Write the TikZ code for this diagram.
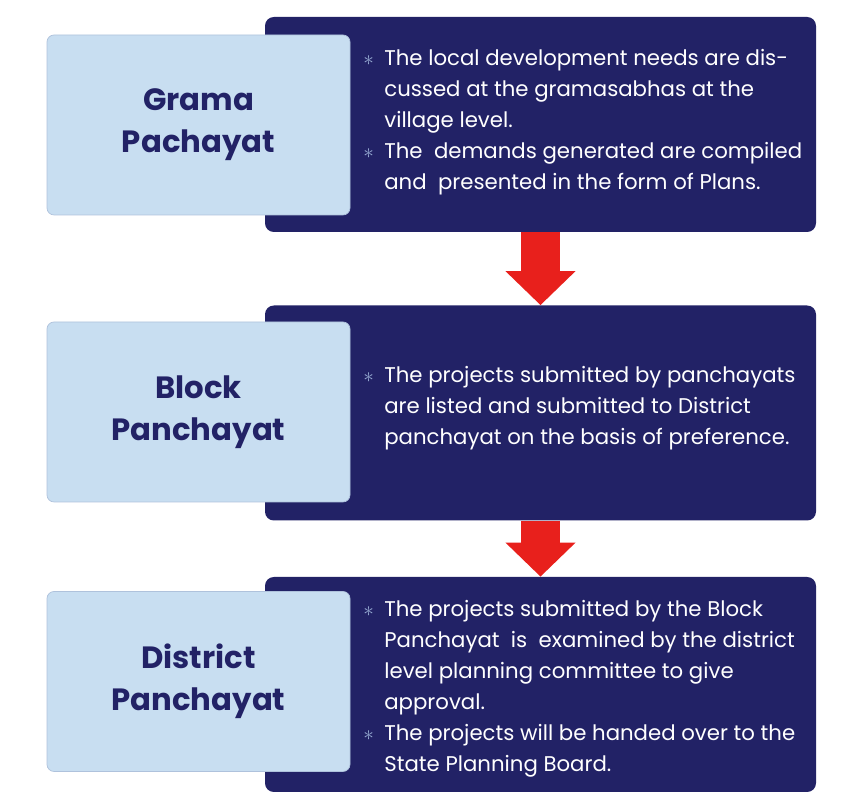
\documentclass[tikz,border=0pt]{standalone}
\usepackage{fontspec}
\setmainfont{Poppins}
\usetikzlibrary{arrows.meta}
\definecolor{navy}{RGB}{34,34,102}
\definecolor{paleblue}{RGB}{200,222,241}
\definecolor{arrowred}{RGB}{232,32,28}
\definecolor{dotblue}{RGB}{150,170,210}
\newcommand{\bul}{\makebox[0.42cm][l]{\textcolor{dotblue}{$\ast$}}}
\newcommand{\ind}{\hspace*{0.42cm}}
\begin{document}
\begin{tikzpicture}[
    level/.style={rectangle, rounded corners=5pt, fill=navy, minimum width=11.02cm, minimum height=4.3cm},
    tier/.style={rectangle, rounded corners=4pt, fill=paleblue, draw=paleblue!85!navy, line width=0.4pt, minimum width=6.06cm, minimum height=3.6cm, align=center, text=navy, font=\fontsize{17.5}{24}\selectfont\bfseries},
    info/.style={anchor=north west, inner sep=0pt, align=left, text=white, font=\fontsize{12.1}{17.6}\selectfont},
    flow/.style={-{Triangle[width=1.36cm,length=0.68cm]}, line width=0.78cm, arrowred}
]
\useasboundingbox (0,0) rectangle (16.96,-16.06);

% Dark panels
\node[level] (lvl1) at (10.81, -2.49) {};
\node[level] (lvl2) at (10.81, -8.26) {};
\node[level] (lvl3) at (10.81, -13.69) {};

% Tier labels
\node[tier] (grama) at (3.97, -2.5) {Grama\\Pachayat};
\node[tier] (block) at (3.97, -8.24) {Block\\Panchayat};
\node[tier] (district) at (3.97, -13.63) {District\\Panchayat};

% Descriptions
\node[info] (txt1) at (7.26, -0.98) {\bul The local development needs are dis-\\
\ind cussed at the gramasabhas at the\\
\ind village level.\\
\bul The \ demands generated are compiled\\
\ind and \ presented in the form of Plans.};
\node[info] (txt2) at (7.26, -7.32) {\bul The projects submitted by panchayats\\
\ind are listed and submitted to District\\
\ind panchayat on the basis of preference.};
\node[info] (txt3) at (7.26, -12.0) {\bul The projects submitted by the Block\\
\ind Panchayat \ is \ examined by the district\\
\ind level planning committee to give\\
\ind approval.\\
\bul The projects will be handed over to the\\
\ind State Planning Board.};

% Arrows
\draw[flow] (lvl1.south) -- (lvl2.north);
\draw[flow] (lvl2.south) -- (lvl3.north);

\end{tikzpicture}
\end{document}
